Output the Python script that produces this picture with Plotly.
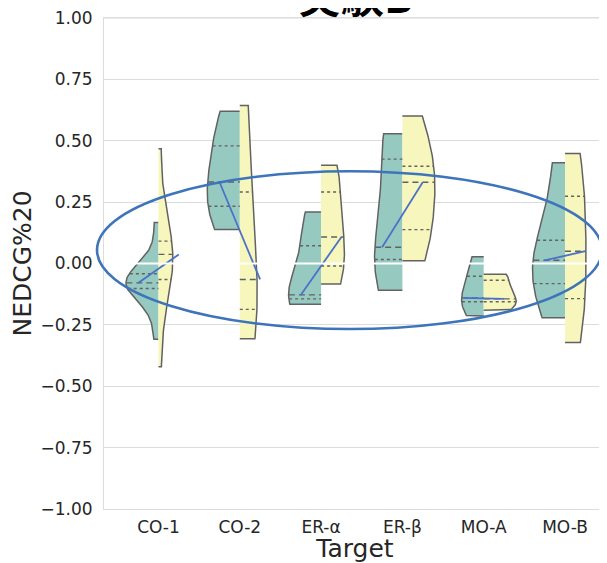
import numpy as np
import plotly.graph_objects as go

# ---------------- data ----------------
categories = ["CO-1", "CO-2", "ER-α", "ER-β", "MO-A", "MO-B"]

# left (teal) half samples per target
co1_teal = [-0.309, -0.19, -0.13, -0.102, -0.096, -0.088, -0.079, -0.073, -0.064, -0.042, -0.035, 0.03, 0.167]
co2_teal = [0.138, 0.233, 0.332, 0.479, 0.620]
era_teal = [-0.166, -0.144, -0.128, 0.072, 0.210]
erb_teal = [-0.109, 0.016, 0.066, 0.425, 0.529]
moa_teal = [-0.214, -0.156, -0.140, -0.052, 0.027]
mob_teal = [-0.221, -0.082, 0.013, 0.095, 0.410]

# right (yellow) half samples per target
co1_yellow = [-0.421, -0.12, -0.065, -0.01, 0.037, 0.05, 0.091, 0.13, 0.467]
co2_yellow = [-0.307, -0.187, -0.065, 0.291, 0.644]
era_yellow = [-0.084, -0.010, 0.108, 0.291, 0.400]
erb_yellow = [0.011, 0.138, 0.331, 0.396, 0.601]
moa_yellow = [-0.190, -0.156, -0.144, -0.068, -0.044]
mob_yellow = [-0.322, -0.143, 0.050, 0.274, 0.448]

teal_groups = [co1_teal, co2_teal, era_teal, erb_teal, moa_teal, mob_teal]
yellow_groups = [co1_yellow, co2_yellow, era_yellow, erb_yellow, moa_yellow, mob_yellow]

y_ticks = [-1.0, -0.75, -0.5, -0.25, 0.0, 0.25, 0.5, 0.75, 1.0]
y_tick_labels = ["−1.00", "−0.75", "−0.50", "−0.25", "0.00", "0.25", "0.50", "0.75", "1.00"]

title_text = "実験B"
x_title = "Target"
y_title = "NEDCG%20"

# ---------------- style ----------------
TEAL = "#96cac1"
YELLOW = "#f6f6bd"
EDGE = "#626262"
MEDIAN_BLUE = "#4a72c8"
ELLIPSE_BLUE = "#3e74ba"
GRID = "#dcdcdc"
TEXT = "#262626"
HALF_WIDTH = 0.4
MEDIAN_OFFSET = 0.25
FONT = "DejaVu Sans"
X_RANGE = [-0.67, 5.504]
Y_RANGE = [-1.0, 1.0]
# highlight ellipse, in data units (may extend past the plot frame)
ELLIPSE_X = (-0.756, 5.455)
ELLIPSE_Y = (-0.267, 0.376)
PAGE_OFFSET = 8  # browser body margin around the figure


def kde(samples, grid):
    s = np.asarray(samples, float)
    n = len(s)
    bw = s.std(ddof=1) * n ** (-1 / 5)
    z = (grid[:, None] - s[None, :]) / bw
    return np.exp(-0.5 * z ** 2).sum(axis=1) / (n * bw * np.sqrt(2 * np.pi))


def to_paper(v, rng):
    return (v - rng[0]) / (rng[1] - rng[0])


fig = go.Figure()
quart_specs = []
median_pts = []

for i, (ta, ye) in enumerate(zip(teal_groups, yellow_groups)):
    halves = []
    for samples in (ta, ye):
        s = np.asarray(samples, float)
        grid = np.linspace(s.min(), s.max(), 100)
        halves.append((s, grid, kde(s, grid)))
    scale = HALF_WIDTH / max(d.max() for _, _, d in halves)
    meds = []
    for side, ((s, grid, dens), color) in enumerate(zip(halves, (TEAL, YELLOW))):
        sign = -1 if side == 0 else 1
        xs = np.concatenate([[i], i + sign * dens * scale, [i]])
        ys = np.concatenate([[grid[0]], grid, [grid[-1]]])
        fig.add_trace(go.Scatter(
            x=xs, y=ys, mode="lines", fill="toself", fillcolor=color,
            line=dict(color=EDGE, width=1.5), hoverinfo="skip", showlegend=False))
        q1, q2, q3 = np.percentile(s, [25, 50, 75])
        meds.append(q2)
        for q, dash in ((q1, "3px,3px"), (q2, "6px,4px"), (q3, "3px,3px")):
            w = dens[np.abs(grid - q).argmin()] * scale * 0.99
            quart_specs.append((i, sign, w, q, dash))
    median_pts.append(meds)

for i, sign, w, q, dash in quart_specs:
    xa, xb = (i - w, i) if sign < 0 else (i, i + w)
    fig.add_trace(go.Scatter(
        x=[xa, xb], y=[q, q], mode="lines",
        line=dict(color=EDGE, width=1.4, dash=dash),
        hoverinfo="skip", showlegend=False))

for i, (m_left, m_right) in enumerate(median_pts):
    fig.add_trace(go.Scatter(
        x=[i - MEDIAN_OFFSET, i + MEDIAN_OFFSET], y=[m_left, m_right], mode="lines",
        line=dict(color=MEDIAN_BLUE, width=1.8), hoverinfo="skip", showlegend=False))

# top frame line (kept visible even where the 1.00 grid line coincides)
fig.add_shape(type="line", xref="paper", x0=0, x1=1, yref="paper", y0=1, y1=1,
              line=dict(color=GRID, width=1.2), layer="below")
# white zero line over the violins
fig.add_shape(type="line", xref="paper", x0=0, x1=1, yref="y", y0=0, y1=0,
              line=dict(color="white", width=2), layer="above")
# highlight ellipse (paper coords so it is not clipped by the frame)
fig.add_shape(type="circle", xref="paper", yref="paper",
              x0=to_paper(ELLIPSE_X[0], X_RANGE), x1=to_paper(ELLIPSE_X[1], X_RANGE),
              y0=to_paper(ELLIPSE_Y[0], Y_RANGE), y1=to_paper(ELLIPSE_Y[1], Y_RANGE),
              line=dict(color=ELLIPSE_BLUE, width=2.6), layer="above")

fig.add_annotation(text=f"<b>{title_text}</b>", xref="paper", yref="paper",
                   x=0.5, y=1, xanchor="center", yanchor="bottom", yshift=-9,
                   showarrow=False,
                   font=dict(family="Noto Sans CJK JP", size=43, color="black"))

fig.update_layout(
    width=607 - PAGE_OFFSET, height=563 - PAGE_OFFSET,
    margin=dict(l=104 - PAGE_OFFSET, r=1, t=18 - PAGE_OFFSET, b=54),
    paper_bgcolor="white", plot_bgcolor="white",
    font=dict(family=FONT, color=TEXT),
    showlegend=False,
)
fig.update_xaxes(
    range=X_RANGE, tickmode="array", tickvals=list(range(len(categories))),
    ticktext=categories, tickfont=dict(size=17, color=TEXT), ticks="",
    ticklabelstandoff=3, ticklabeloverflow="allow", showgrid=False,
    zeroline=False, automargin=False,
    showline=True, linecolor=GRID, linewidth=1, mirror=True,
    title=dict(text=x_title, font=dict(size=25, color=TEXT), standoff=3),
)
fig.update_yaxes(
    range=Y_RANGE, tickmode="array", tickvals=y_ticks, ticktext=y_tick_labels,
    tickfont=dict(size=17, color=TEXT), ticks="", ticklabelstandoff=7,
    ticklabeloverflow="allow",
    showgrid=True, gridcolor=GRID, gridwidth=1, zeroline=False, automargin=False,
    showline=True, linecolor=GRID, linewidth=1, mirror=True,
    title=dict(text=y_title, font=dict(size=25, color=TEXT), standoff=3),
)

fig.write_html("out.html")
